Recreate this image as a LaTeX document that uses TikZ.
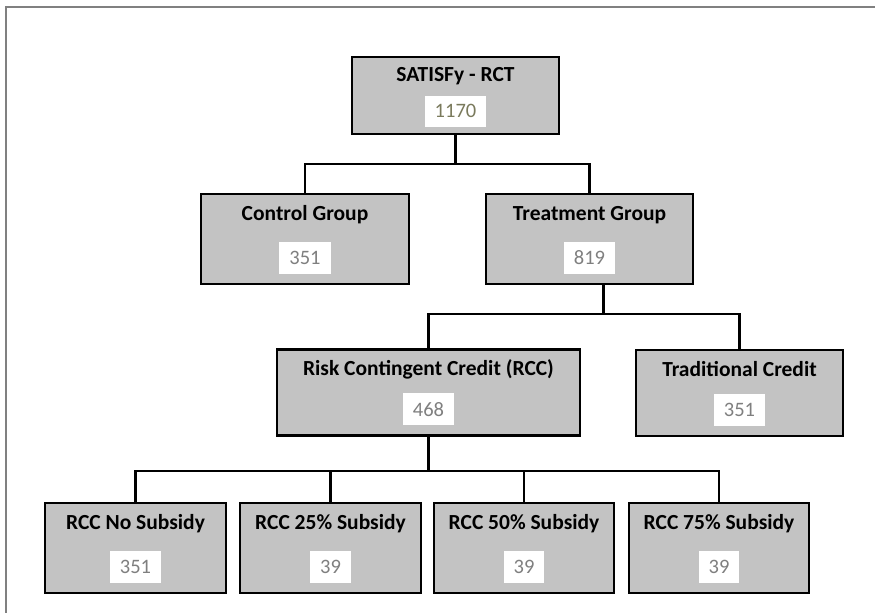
\documentclass[tikz,border=0pt]{standalone}
\usepackage{fontspec}
\setmainfont{Carlito}
\usetikzlibrary{positioning}
\definecolor{frameG}{HTML}{808080}
\definecolor{boxG}{HTML}{C3C3C3}
\definecolor{numG}{HTML}{7F7F7F}
\definecolor{numOl}{HTML}{7A7A5C}

\tikzset{
  grpbox/.style={draw=black, line width=2.2pt, fill=boxG,
                 minimum height=90pt, inner sep=0pt},
  ttl/.style={font=\fontsize{21.5}{24}\selectfont\bfseries,
              text height=15pt, text depth=4pt, inner sep=0pt},
  numbox/.style={fill=white, text=numG, font=\fontsize{20.5}{22}\selectfont,
                 minimum height=32pt, inner xsep=10pt, inner ysep=0pt},
  link/.style={line width=2.2pt}
}

\begin{document}
\begin{tikzpicture}[x=1pt, y=-1pt]
  \useasboundingbox (0,0) rectangle (875,613);
  \draw[frameG, line width=2pt] (875,7) -- (6,7) -- (6,613);

  % boxes
  \node[grpbox, minimum width=207pt, minimum height=77pt] (root) at (455.5,95.5) {};
  \node[grpbox, minimum width=208pt] (ctl) at (305,239) {};
  \node[grpbox, minimum width=207pt] (trt) at (589.5,239) {};
  \node[grpbox, minimum width=303pt, minimum height=86pt] (rcc) at (428.5,392.5) {};
  \node[grpbox, minimum width=207pt, minimum height=86pt] (trad) at (739.5,393) {};
  \node[grpbox, minimum width=181pt] (sub0) at (135.5,548) {};
  \node[grpbox, minimum width=181pt] (sub25) at (330.5,548) {};
  \node[grpbox, minimum width=180pt] (sub50) at (524,548) {};
  \node[grpbox, minimum width=180pt] (sub75) at (719,548) {};

  % titles
  \node[ttl, below=10pt of root.north] (rootT) {SATISFy - RCT};
  \node[ttl, below=12pt of ctl.north] (ctlT) {Control Group};
  \node[ttl, below=12pt of trt.north] (trtT) {Treatment Group};
  \node[ttl, below=12pt of rcc.north] (rccT) {Risk Contingent Credit (RCC)};
  \node[ttl, below=12pt of trad.north] (tradT) {Traditional Credit};
  \node[ttl, below=12pt of sub0.north] (sub0T) {RCC No Subsidy};
  \node[ttl, below=12pt of sub25.north] (sub25T) {RCC 25\% Subsidy};
  \node[ttl, below=12pt of sub50.north] (sub50T) {RCC 50\% Subsidy};
  \node[ttl, below=12pt of sub75.north] (sub75T) {RCC 75\% Subsidy};

  % counts
  \node[numbox, text=numOl, minimum height=31pt, above=8pt of root.south] (rootN) {1170};
  \node[numbox, above=11pt of ctl.south] (ctlN) {351};
  \node[numbox, above=11pt of trt.south] (trtN) {819};
  \node[numbox, above=11pt of rcc.south] (rccN) {468};
  \node[numbox, above=11pt of trad.south] (tradN) {351};
  \node[numbox, above=11pt of sub0.south] (sub0N) {351};
  \node[numbox, above=11pt of sub25.south] (sub25N) {39};
  \node[numbox, above=11pt of sub50.south] (sub50N) {39};
  \node[numbox, above=11pt of sub75.south] (sub75N) {39};

  % tree lines
  \draw[link] (root.south) -- ++(0,29) coordinate (j1) -| (ctl.north)
              (j1) -| (trt.north);
  \draw[link] ([xshift=14pt]trt.south) -- ++(0,29) coordinate (j2) -| (rcc.north)
              (j2) -| (trad.north);
  \draw[link] (rcc.south) -- ++(0,34) coordinate (j3) -| (sub0.north)
              (j3) -| (sub25.north) (j3) -| (sub50.north) (j3) -| (sub75.north);
\end{tikzpicture}
\end{document}
